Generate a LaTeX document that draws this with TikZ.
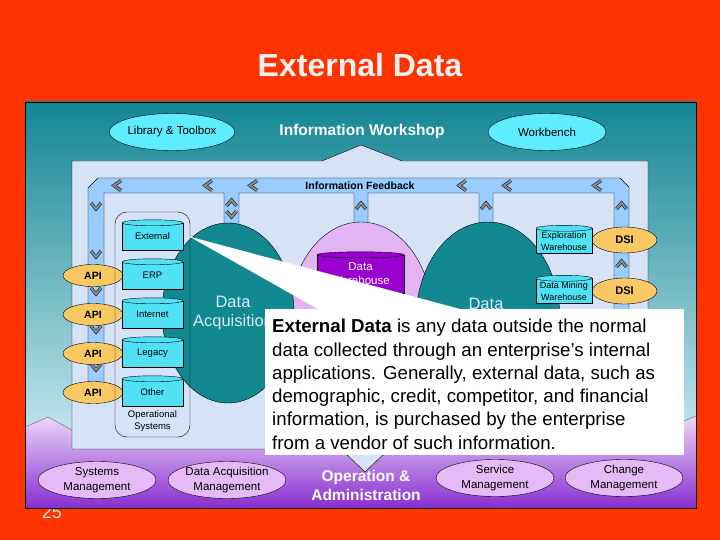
\documentclass[tikz,border=0pt]{standalone}
\usepackage{fontspec}
\setmainfont{Liberation Sans}
\usetikzlibrary{shapes.geometric,calc}

\definecolor{slidered}{RGB}{255,51,0}
\definecolor{panetop}{RGB}{20,134,148}
\definecolor{panebot}{RGB}{196,230,238}
\definecolor{paneblue}{RGB}{214,226,246}
\definecolor{bandblue}{RGB}{153,204,255}
\definecolor{drumcyan}{RGB}{80,226,244}
\definecolor{toolcyan}{RGB}{96,236,255}
\definecolor{apiorange}{RGB}{248,200,100}
\definecolor{poolteal}{RGB}{18,136,145}
\definecolor{poollav}{RGB}{226,180,244}
\definecolor{poolink}{RGB}{214,236,250}
\definecolor{dwpurple}{RGB}{153,0,208}
\definecolor{lilac}{RGB}{230,186,246}
\definecolor{opstop}{RGB}{236,214,248}
\definecolor{opsbot}{RGB}{136,46,208}

\tikzset{
  oval/.style={ellipse, draw, inner sep=0pt},
  toolbox/.style={oval, fill=toolcyan, minimum width=118pt, minimum height=37pt, font=\fontsize{11.5}{13}\selectfont},
  api/.style={oval, fill=apiorange, minimum width=60pt, minimum height=22pt, font=\bfseries\fontsize{10.5}{12}\selectfont},
  dsi/.style={oval, fill=apiorange, minimum width=65pt, minimum height=26pt, font=\bfseries\fontsize{11}{12}\selectfont},
  drum/.style={draw, fill=drumcyan, inner sep=0pt, align=center, font=\fontsize{9.5}{11}\selectfont},
  pool/.style={ellipse, draw, inner sep=0pt},
  mgmt/.style={oval, fill=lilac, minimum width=118pt, minimum height=37pt, align=center, font=\fontsize{11.5}{14.5}\selectfont},
  chev/.style={draw=black, line width=0.5pt, double=gray!90, double distance=2.2pt, line join=miter},
}

\begin{document}
\begin{tikzpicture}[x=1pt, y=-1pt]
\useasboundingbox (0,0) rectangle (720,540);
\fill[slidered] (0,0) rectangle (720,540);
\node (pageno) [anchor=base, text=gray!25, font=\fontsize{18}{20}\selectfont] at (52,518) {25};

% panel background
\shade[top color=panetop, bottom color=panebot] (25,102) rectangle (696,440);
\shade[top color=opstop, bottom color=opsbot] (25,427) -- (48,417) -- (72,430) -- (650,430) -- (684,421) -- (696,416) -- (696,508) -- (25,508) -- cycle;
\draw[black!60] (25,427) -- (48,417) -- (72,430);
\draw[black!60] (650,430) -- (684,421) -- (696,416);
\draw (25,102) rectangle (696,508);

\node (title) [text=gray!12, font=\bfseries\fontsize{32}{36}\selectfont] at (360,65) {External Data};

% information workshop
\node (library) [toolbox] at (172,132) {Library \& Toolbox};
\node (workshop) [text=white, font=\bfseries\fontsize{15.5}{18}\selectfont] at (362,131) {Information Workshop};
\node (workbench) [toolbox] at (547,132) {Workbench};

\draw[fill=paneblue] (72,161) -- (322,161) -- (361,145) -- (402,161) -- (648,161) -- (648,449)
  -- (389,449) -- (365,472) -- (341,449) -- (72,449) -- cycle;

% feedback band
\draw[fill=bandblue] (88,398) -- (88,188) -- (98,178) -- (620,178) -- (629,187) -- (629,315) -- (614,315)
  -- (614,193) -- (493,193) -- (493,226) -- (479,226) -- (479,193) -- (368,193) -- (368,226) -- (354,226)
  -- (354,193) -- (239,193) -- (239,226) -- (224,226) -- (224,193) -- (104,193) -- (104,398) -- cycle;
\foreach \x in {117,208,253,462,507,597}
  \draw[chev] (\x+4,180.5) -- (\x-3,185.5) -- (\x+4,190.5);
\foreach \y in {207,255,292,330,368}
  \draw[chev] (91,\y-4) -- (96,\y+2) -- (101,\y-4);
\foreach \x/\y in {231.5/202,361/205,486/205,621.5/205,621.5/263}
  \draw[chev] (\x-5,\y+4) -- (\x,\y-2) -- (\x+5,\y+4);
\draw[chev] (226.5,211) -- (231.5,217) -- (236.5,211);
\node (feedback) [font=\bfseries\fontsize{10.5}{12}\selectfont] at (360,186) {Information Feedback};

% pools
\node (dwpool) [pool, fill=poollav, minimum width=144pt, minimum height=196pt] at (361,320) {};
\node (dapool) [pool, fill=poolteal, minimum width=132pt, minimum height=180pt] at (228,313) {};
\node (ddpool) [pool, fill=poolteal, minimum width=144pt, minimum height=196pt] at (488,320) {};
\node (datext) [text=poolink, align=center, font=\fontsize{16.5}{19}\selectfont] at (233,313) {Data\\Acquisition};
\node (ddtext) [text=poolink, font=\fontsize{16.5}{19}\selectfont] at (486,304) {Data};

% operational systems
\foreach \i in {1,...,4}
  \node (api\i) [api] at (93,236.5+39*\i) {API};
\foreach \nm/\txt [count=\i from 0] in {ext/External,erp/ERP,inet/Internet,leg/Legacy,oth/Other} {
  \node (\nm) [drum, minimum width=61pt, minimum height=27pt] at (152.5,236.5+39*\i) {\txt};
  \draw[fill=drumcyan] (\nm.north) ellipse (30.5pt and 3pt);
}
\node (ops) [draw, rounded corners=12pt, minimum width=75pt, minimum height=225pt] at (152.5,324.5) {};
\node (opstext) [align=center, font=\fontsize{9.5}{11.5}\selectfont] at (152.5,421) {Operational\\Systems};

% warehouses
\node (dw) [drum, fill=dwpurple, text=white, minimum width=87pt, minimum height=38pt, font=\fontsize{11.5}{14}\selectfont] at (360.5,274) {Data\\Warehouse};
\draw[fill=dwpurple] (dw.north) ellipse (43.5pt and 3pt);
\node (dsi1) [dsi] at (624.5,240) {DSI};
\node (dsi2) [dsi] at (624.5,291) {DSI};
\node (explore) [drum, minimum width=56pt, minimum height=25pt, font=\fontsize{9}{12}\selectfont] at (564,241) {Exploration\\Warehouse};
\draw[fill=drumcyan] (explore.north) ellipse (28pt and 3pt);
\node (mining) [drum, minimum width=56pt, minimum height=25pt, font=\fontsize{9}{12}\selectfont] at (564,291) {Data Mining\\Warehouse};
\draw[fill=drumcyan] (mining.north) ellipse (28pt and 3pt);

% callout
\node (note) [fill=white, inner sep=0pt, minimum width=419pt, minimum height=146pt, anchor=north west] at (265,309) {};
\fill[white] ($(ext.east)+(6,0)$) -- ($(note.north west)+(53,0)$) -- ($(note.north west)+(195,0)$) -- cycle;
\node (notetext) [anchor=north west, align=left, inner sep=0pt, font=\fontsize{18.7}{23.3}\selectfont] at (272,319)
  {\textbf{External Data} is any data outside the normal\\
   data collected through an enterprise's internal\\
   applications. Generally, external data, such as\\
   demographic, credit, competitor, and financial\\
   information, is purchased by the enterprise\\
   from a vendor of such information.};

% operation and administration
\node (sysmgmt) [mgmt] at (97,480) {Systems\\Management};
\node (dacqmgmt) [mgmt] at (227,480) {Data Acquisition\\Management};
\node (opadmin) [text=white, align=center, font=\bfseries\fontsize{15.5}{19}\selectfont] at (366,485) {Operation \&\\Administration};
\node (svcmgmt) [mgmt] at (495,478) {Service\\Management};
\node (chgmgmt) [mgmt] at (624,478) {Change\\Management};
\end{tikzpicture}
\end{document}
